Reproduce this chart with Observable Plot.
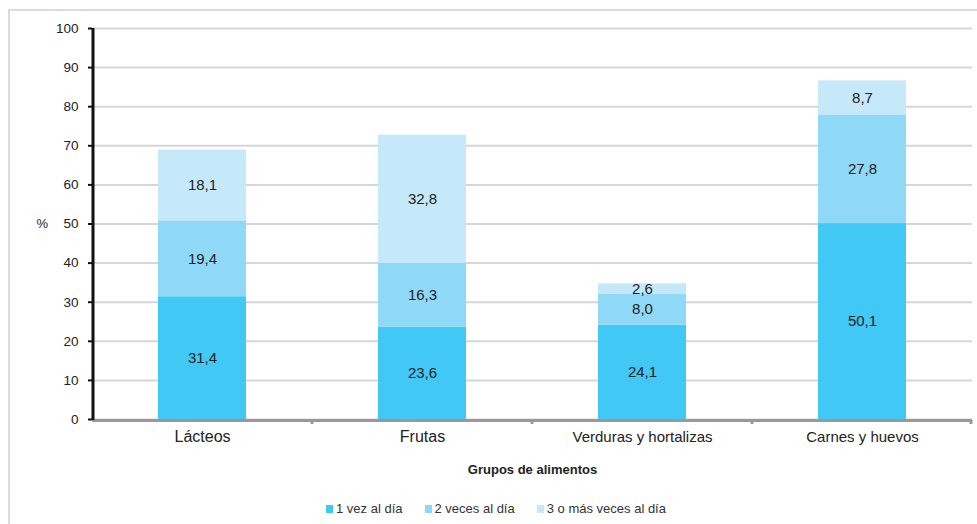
<!DOCTYPE html>
<html>
<head>
<meta charset="utf-8">
<script src="https://cdn.jsdelivr.net/npm/d3@7"></script>
<script src="https://cdn.jsdelivr.net/npm/@observablehq/plot@0.6"></script>
<style>
  html, body { margin: 0; padding: 0; background: #fff; overflow: hidden; }
  body { width: 977px; height: 524px; position: relative; font-family: "Liberation Sans", Arial, sans-serif; }
  #frame { position: absolute; left: 8px; top: 9px; width: 1000px; height: 600px;
           border-left: 2px solid #dcdcdc; border-top: 2px solid #dcdcdc; }
  #chart { position: absolute; left: 0; top: 0; }
  #legend { position: absolute; left: 326px; top: 501px; display: flex; align-items: center;
            font-size: 13px; color: #333; white-space: nowrap; }
  #legend .item { display: flex; align-items: center; margin-right: 22px; }
  #legend .sw { width: 7px; height: 8px; margin-right: 3px; }
</style>
</head>
<body>
<div id="frame"></div>
<div id="chart"></div>
<div id="legend"></div>
<script>
const categories = ["Lácteos", "Frutas", "Verduras y hortalizas", "Carnes y huevos"];
const series = ["1 vez al día", "2 veces al día", "3 o más veces al día"];
const vez1 = [31.4, 23.6, 24.1, 50.1];
const veces2 = [19.4, 16.3, 8.0, 27.8];
const veces3 = [18.1, 32.8, 2.6, 8.7];
const yTicks = [0, 10, 20, 30, 40, 50, 60, 70, 80, 90, 100];
const colors = ["#42c8f4", "#8fd8f6", "#c6e9f9"];
const xTitle = "Grupos de alimentos";
const yTitle = "%";

const valueArrays = [vez1, veces2, veces3];
const data = [];
series.forEach((s, si) => {
  categories.forEach((c, ci) => data.push({cat: c, serie: s, value: valueArrays[si][ci]}));
});
const fmt = v => v.toFixed(1).replace(".", ",");
const font = "Liberation Sans, Arial, sans-serif";

const plot = Plot.plot({
  width: 977,
  height: 485,
  marginLeft: 92,
  marginRight: 5,
  marginTop: 28,
  marginBottom: 66,
  style: {fontFamily: font, background: "transparent", overflow: "visible"},
  x: {domain: categories, paddingInner: 0.6, paddingOuter: 0.3, axis: null},
  y: {domain: [0, 100], axis: null},
  color: {domain: series, range: colors},
  marks: [
    Plot.gridY(yTicks, {stroke: "#d6d6d6", strokeWidth: 2, strokeOpacity: 1}),
    Plot.barY(data, Plot.stackY({x: "cat", y: "value", fill: "serie", order: series})),
    Plot.text(data, Plot.stackY({x: "cat", y: "value", z: "serie", order: series,
      text: d => fmt(d.value), fill: "#222", fontSize: 15})),
    Plot.ruleY([0], {stroke: "#999", strokeWidth: 3, dy: 1}),
    Plot.axisY(yTicks, {tickSize: 4, tickPadding: 10, stroke: "#111", strokeWidth: 2,
      fill: "#222", fontSize: 13.5, label: null, tickFormat: d => String(d)}),
    Plot.text(categories, {x: d => d, frameAnchor: "bottom", dy: 22, fill: "#222",
      fontSize: d => d.length > 10 ? 15 : 16}),
    Plot.text([xTitle], {frameAnchor: "bottom", dy: 54, fontWeight: "bold", fontSize: 13, fill: "#222"}),
    Plot.text([yTitle], {frameAnchor: "left", dx: -56, y: 50, fontSize: 13, fill: "#222"})
  ]
});
document.getElementById("chart").appendChild(plot);

// axis lines drawn from the plot's own scales
const sx = plot.scale("x");
const sy = plot.scale("y");
const svg = d3.select(plot);
const x0 = sx.range[0], x1 = sx.range[1];
const step = (x1 - x0) / categories.length;
svg.append("line")
  .attr("x1", x0 + 1).attr("x2", x0 + 1)
  .attr("y1", sy.apply(100)).attr("y2", sy.apply(0) + 1)
  .attr("stroke", "#111").attr("stroke-width", 3);
categories.forEach((c, i) => {
  const xb = x0 + step * (i + 1) - (i === categories.length - 1 ? 1 : 0);
  svg.append("line")
    .attr("x1", xb).attr("x2", xb)
    .attr("y1", sy.apply(0) + 1).attr("y2", sy.apply(0) + 5)
    .attr("stroke", "#999").attr("stroke-width", 3);
});

// legend
const legend = d3.select("#legend");
series.forEach((s, i) => {
  const item = legend.append("div").attr("class", "item");
  item.append("div").attr("class", "sw").style("background", colors[i]);
  item.append("span").text(s);
});
</script>
</body>
</html>
